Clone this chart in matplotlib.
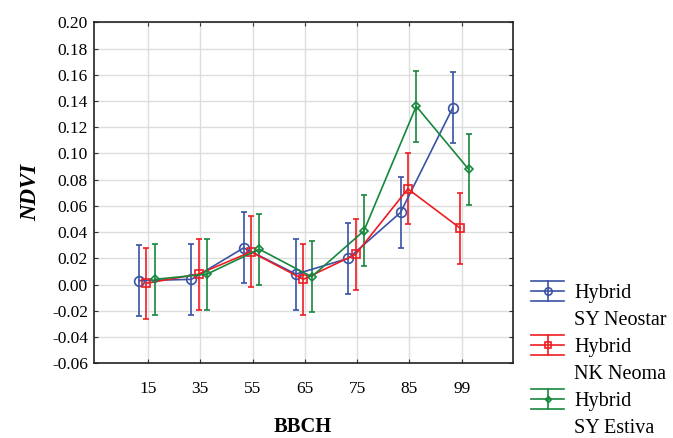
import numpy as np
import matplotlib
matplotlib.use('Agg')
import matplotlib.pyplot as plt
from matplotlib.lines import Line2D
from matplotlib.legend_handler import HandlerBase

plt.rcParams['font.family'] = ['Liberation Serif', 'DejaVu Serif']

# BBCH growth stages and mean NDVI per hybrid
bbch = ['15', '35', '55', '65', '75', '85', '99']
neostar = [0.003, 0.004, 0.028, 0.008, 0.020, 0.055, 0.135]
neostar_err = [0.027, 0.027, 0.027, 0.027, 0.027, 0.027, 0.027]
neoma = [0.001, 0.008, 0.025, 0.004, 0.023, 0.073, 0.043]
neoma_err = [0.027, 0.027, 0.027, 0.027, 0.027, 0.027, 0.027]
estiva = [0.004, 0.008, 0.027, 0.006, 0.041, 0.136, 0.088]
estiva_err = [0.027, 0.027, 0.027, 0.027, 0.027, 0.027, 0.027]

series = [
    ('SY Neostar', neostar, neostar_err, '#3a53a4', 'o', 7, -0.17),
    ('NK Neoma', neoma, neoma_err, '#ee1d23', 's', 5.8, -0.03),
    ('SY Estiva', estiva, estiva_err, '#16873d', 'D', 4, 0.13),
]


class CapHandler(HandlerBase):
    # legend key: line with marker, vertical bar and full-width caps
    def create_artists(self, legend, orig, xdescent, ydescent, width, height,
                       fontsize, trans):
        c = orig.get_color()
        x0, x1 = -xdescent, width - xdescent
        ym = height / 2 - ydescent
        xm = (x0 + x1) / 2
        h = 0.5 * fontsize
        lw = orig.get_linewidth()
        arts = [
            Line2D([x0, x1], [ym, ym], color=c, lw=lw),
            Line2D([x0, x1], [ym + h, ym + h], color=c, lw=lw),
            Line2D([x0, x1], [ym - h, ym - h], color=c, lw=lw),
            Line2D([xm, xm], [ym - h, ym + h], color=c, lw=lw),
            Line2D([xm], [ym], marker=orig.get_marker(), ms=orig.get_markersize() * 0.75,
                   mfc='none', mec=c, mew=lw, linestyle='none'),
        ]
        for a in arts:
            a.set_transform(trans)
        return arts


fig = plt.figure(figsize=(6.73, 4.38), dpi=100)
ax = fig.add_axes([93.5 / 673, 1 - 363.3 / 438, 419 / 673, 341 / 438])

x = np.arange(len(bbch))
handles = []
labels = []
for name, vals, err, col, mk, ms, off in series:
    ax.errorbar(x + off, vals, yerr=err, color=col, marker=mk, ms=ms,
                mfc='none', mec=col, mew=1.2, lw=1.2, capsize=2.5,
                capthick=1.2, elinewidth=1.2, zorder=3)
    handles.append(Line2D([], [], color=col, marker=mk, ms=ms, lw=1.2))
    labels.append('Hybrid')
    handles.append(Line2D([], [], linestyle='none'))
    labels.append(name)

ax.set_xlim(-1.04, 6.97)
ax.set_ylim(-0.06, 0.20)
ax.set_xticks(x)
ax.set_xticklabels(bbch)
ax.set_yticks(np.arange(-0.06, 0.201, 0.02))
ax.set_yticklabels(['%.2f' % v for v in np.arange(-0.06, 0.201, 0.02)])
ax.grid(True, color='#dddddd', lw=1.0, zorder=0)
ax.set_axisbelow(True)
ax.tick_params(direction='in', length=3, width=0.8, color='#333333',
               top=True, right=True, labelsize=12.5)
ax.tick_params(axis='x', pad=13)
ax.tick_params(axis='y', pad=4)
for s in ax.spines.values():
    s.set_linewidth(1.2)
    s.set_color('#222222')

ax.set_xlabel('BBCH', fontsize=14.8, fontweight='bold', labelpad=14)
ax.set_ylabel('NDVI', fontsize=16.5, fontweight='bold', style='italic', labelpad=8)

hm = {h: CapHandler() for h in handles[::2]}
fig.legend(handles, labels, handler_map=hm, loc='upper left',
           bbox_to_anchor=(531 / 673, 1 - 284 / 438), frameon=False,
           fontsize=14.5, handlelength=1.65, handletextpad=0.5,
           labelspacing=0.39, borderaxespad=0, borderpad=0)

fig.savefig('out.png', dpi=100)
